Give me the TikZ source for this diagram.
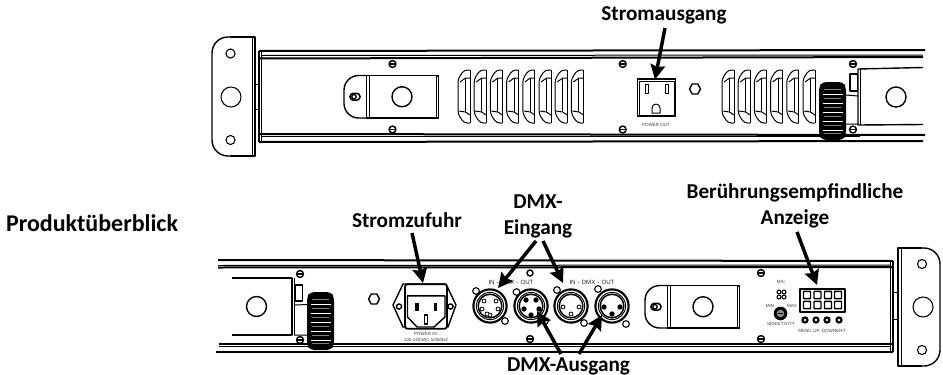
\documentclass[tikz,border=0pt]{standalone}
\usepackage{fontspec}
\setmainfont{Carlito}
\newfontfamily\tinyfont{Liberation Sans}
\usetikzlibrary{arrows.meta}
\tikzset{
  thin line/.style={line width=0.75pt,black},
  mid line/.style={line width=1.05pt,black},
  thick line/.style={line width=1.5pt,black},
  label text/.style={font=\fontsize{15.9pt}{19.5pt}\selectfont\bfseries,align=center,inner sep=0pt,text=black},
  tiny text/.style={font=\tinyfont\fontsize{3.4pt}{4pt}\selectfont,inner sep=0pt,text=black!75},
  small text/.style={font=\tinyfont\fontsize{4.6pt}{5pt}\selectfont,inner sep=0pt,text=black!85},
  pointer/.style={line width=2.6pt,black,-{Stealth[length=11pt,width=11pt,inset=1.5pt]}},
  hole/.style={circle,draw=black,line width=0.8pt,inner sep=0pt,fill=white},
  target/.style={inner sep=0pt,minimum size=0pt},
  screwhead/.pic={
    \fill[black] (0,0) circle (4.2);
    \fill[white] (0,0) circle (2.5);
    \fill[black] (-2.6,-0.6) rectangle (2.6,0.6);
  },
  vent/.pic={
    \draw[thin line,fill=white,rounded corners=2.5pt] (12,0) -- (6,0) -- (0,9) -- (0,44) -- (6,53) -- (12,53);
    \draw[thin line] (12,-0.2) -- (12,53.2);
    \draw[thin line] (12,8) -- (7.5,8) -- (2,12);
    \draw[thin line] (12,45) -- (7.5,42) -- (1,41);
    \draw[thin line] (7.5,8) -- (7.5,42);
  },
  knob/.pic={
    \fill[black,rounded corners=3pt] (3,0) -- (24,0) -- (27,5) -- (27,53) -- (24,58) -- (3,58) -- (0,53) -- (0,5) -- cycle;
    \foreach \yy in {7.5,16.5,25.5,34.5,43.5,51.5}
      \draw[line width=1.3pt,black!50] (5,\yy) -- (22,\yy);
    \foreach \yy in {12,21,30,39,48}
      \draw[line width=0.7pt,white] (3.5,\yy) -- (23.5,\yy);
  },
  hexnut/.pic={
    \draw[mid line,fill=white] (-5.5,0) -- (-2.8,-5) -- (2.8,-5) -- (5.5,0) -- (2.8,5) -- (-2.8,5) -- cycle;
  },
  slotmark/.pic={
    \draw[line width=1.2pt,black,fill=white,rounded corners=2.5pt] (-5,-3.4) rectangle (5,3.4);
    \draw[line width=1pt,black] (-1,0) circle (2.2);
  },
  latchplate/.pic={
    \draw[mid line,fill=white,rounded corners=11pt] (25,0) -- (0,0) -- (0,42.5) -- (25,42.5);
    \draw[mid line] (22,0) -- (95,0) (22,42.5) -- (95,42.5);
    \draw[thin line] (22,0) -- (22,42.5);
    \draw[thin line] (25,0) -- (25,42.5);
    \fill[black] (91.5,-1) rectangle (95,43.5);
    \fill[white] (92.6,1) rectangle (93.8,41.5);
    \draw[mid line] (58,21.25) circle (10);
    \path (11,21.25) pic {slotmark};
  },
  xlrshell/.pic={
    \draw[line width=1.6pt,black,fill=white] (0,0) circle (16.6);
    \draw[line width=0.7pt,black] (0,0) circle (13.6);
    \draw[line width=1.1pt,black] (0,0) circle (11.8);
  },
  smallpin/.style={circle,fill=black,inner sep=0pt,minimum size=4pt},
  openpin/.style={circle,draw=black,fill=white,line width=0.6pt,inner sep=0pt,minimum size=3pt},
  ear/.style={circle,draw=black,fill=white,line width=0.8pt,inner sep=0pt,minimum size=5pt},
}
\begin{document}
\begin{tikzpicture}[x=0.75pt,y=-0.75pt,line join=round]
\useasboundingbox (0,0) rectangle (943,375);
\fill[white] (0,0) rectangle (943,375);

% ---------- top unit ----------
\draw[mid line,fill=white,rounded corners=12pt] (236,37) -- (212,37) -- (212,156) -- (236,156);
\draw[mid line] (230,37) -- (255,37) -- (255,156) -- (230,156);
\draw[thin line] (252,37) -- (252,156);
\node[hole,minimum size=6.8pt] (tbh1) at (230.5,53.5) {};
\node[hole,minimum size=15pt] (tbh2) at (231,97) {};
\node[hole,minimum size=6.8pt] (tbh3) at (230.5,140) {};
\draw[thin line] (255,84) -- (259,84) (255,109) -- (259,109);
% rail
\draw[thick line] (259,51) -- (925,50);
\draw[thick line] (259,58.5) -- (923,57);
\draw[thin line] (262,55.5) -- (923,55);
\draw[thick line] (259,134) -- (925,135);
\draw[thin line] (262,136.5) -- (860,136.5);
\draw[thick line] (259,142) -- (923,141);
\draw[mid line] (259,51) -- (259,142);
\draw[thin line] (261.5,51) -- (261.5,142);
% furniture
\path (344,75.5) pic {latchplate};
\path (392.5,64) pic {screwhead} (392.5,129.5) pic {screwhead};
\path (622.7,64) pic {screwhead} (622.7,129.5) pic {screwhead};
\foreach \n in {0,...,7} \path (458+\n*16.2,70) pic {vent};
\foreach \n in {0,...,5} \path (722+\n*16.2,70) pic {vent};
\node[draw=black,line width=1.2pt,fill=white,minimum width=28.5pt,minimum height=27.5pt,inner sep=0pt] (outlet) at (656.5,97.5) {};
\draw[thin line] (639.5,81) rectangle (674.5,115);
\draw[thin line,fill=white] (645,84) rectangle (648,93);
\draw[thin line,fill=white] (665,84) rectangle (668,93);
\draw[thin line,fill=white] (652,113) -- (652,108) arc (180:360:4) -- (660,113) -- cycle;
\node[tiny text] (tpout) at (656,125) {POWER OUT};
\path (695,89) pic {hexnut};
% right latch
\draw[mid line] (923,67.5) -- (858,69) -- (858,125) -- (923,124.5);
\draw[thin line] (860,69) -- (860,125);
\draw[mid line] (896,97) circle (10);
\draw[mid line,fill=white] (850,74) rectangle (857.5,91);
\draw[thin line] (846,95) -- (858,96) (846,124) -- (858,124);
\path (853,64) pic {screwhead} (853,129.5) pic {screwhead};
\path (819,82) pic {knob};

% ---------- bottom unit ----------
\draw[thick line] (218,260) -- (893,261);
\draw[thick line] (218,267.5) -- (893,267);
\draw[thin line] (218,265.5) -- (890,265);
\draw[thick line] (219,344) -- (893,344);
\draw[thin line] (219,346.5) -- (890,346.5);
\draw[thick line] (216,351.5) -- (893,351.5);
\draw[mid line] (893,261) -- (893,351.5);
\draw[thin line] (890.5,261) -- (890.5,351.5);
\draw[thin line] (893,292) -- (898,292) (893,319) -- (898,319);
\draw[mid line,fill=white,rounded corners=12pt] (918,248) -- (940,248) -- (940,366) -- (918,366);
\draw[mid line] (922,248) -- (898,248) -- (898,366) -- (922,366);
\draw[thin line] (901,248) -- (901,366);
\node[hole,minimum size=6.8pt] (bbh1) at (922,264) {};
\node[hole,minimum size=15pt] (bbh2) at (923,307) {};
\node[hole,minimum size=6.8pt] (bbh3) at (922,350) {};
% left latch
\draw[mid line] (232,278) -- (292,278) -- (292,335) -- (232,335);
\draw[thin line] (294,278) -- (294,335);
\draw[mid line] (256.5,306.5) circle (10);
\draw[mid line,fill=white] (295,285) rectangle (302.5,301);
\draw[thin line] (294,305) -- (308,304.5) (294,335) -- (308,335);
\path (300,274) pic {screwhead} (300,340) pic {screwhead};
\path (307,292) pic {knob};
\path (374,299) pic {hexnut};
% IEC inlet
\draw[mid line,fill=white] (403,284) -- (393,305) -- (403,327) -- (448,327) -- (456,305) -- (446,284) -- cycle;
\node[draw=black,line width=1.3pt,rounded corners=2pt,fill=white,minimum width=31.5pt,minimum height=33.5pt,inner sep=0pt] (iec) at (426,306.5) {};
\draw[line width=1.2pt,black] (407,296) -- (445,296);
\draw[line width=1.1pt,black,fill=white] (407.5,296) -- (445,296) -- (445,317) -- (434,327) -- (417,327) -- (407.5,317) -- cycle;
\fill[black] (415,303) rectangle (418.5,311);
\fill[black] (433.5,303) rectangle (437,311);
\draw[line width=0.9pt,black,fill=white] (424.5,315) rectangle (427.5,324);
\draw[mid line,fill=white] (399,306.5) circle (2.6);
\draw[mid line,fill=white] (450.5,306.5) circle (2.6);
\node[tiny text] (pin1) at (426,334) {POWER IN:};
\node[tiny text] (pin2) at (426,340) {100-240VAC 50/60HZ};
% XLR row
\node[target] (xlrA) at (490,306) {};
\node[target] (xlrB) at (531,306) {};
\node[target] (xlrC) at (571,306) {};
\node[target] (xlrD) at (612,306) {};
\path (xlrA) pic {xlrshell} (xlrB) pic {xlrshell} (xlrC) pic {xlrshell} (xlrD) pic {xlrshell};
\node[ear] at (476,291) {};
\node[ear] at (505,321) {};
\node[ear] at (516.5,292) {};
\node[ear] at (545,321) {};
\node[ear] at (557,290) {};
\node[ear] at (584,323) {};
\node[ear] at (598,289) {};
\node[ear] at (626,324) {};
\foreach \a/\b in {-6/-5,6/-5,-8/3,8/3,0/9,-3/8} \node[openpin] at (490+\a,306+\b) {};
\foreach \a/\b in {-5/-6,5/-6,-7/3,8/3,0/9} \node[smallpin] at (531+\a,306+\b) {};
\foreach \a/\b in {-8/1,8/1,0/8} \node[openpin] at (571+\a,306+\b) {};
\foreach \a/\b in {-8/1,8/1,0/8} \node[smallpin] at (612+\a,306+\b) {};
\node[hole,minimum size=4.5pt,line width=1.1pt] (xtop) at (530,273) {};
\path (530,339) pic {screwhead};
\node[small text] (dmxa) at (511,282) {IN\,\,-\,\,DMX\,\,-\,\,OUT};
\node[small text] (dmxb) at (592,282) {IN\,\,-\,\,DMX\,\,-\,\,OUT};
% second latch
\path (645,285.5) pic {latchplate};
\path (761,273) pic {screwhead} (761,339) pic {screwhead};
% control panel
\node[tiny text] (mic) at (781,282) {MIC};
\foreach \a/\b in {779/292,784/292,779/297,784/297} \draw[line width=0.8pt,black] (\a,\b) circle (2);
\node[tiny text] (minl) at (770,306) {MIN};
\node[tiny text] (maxl) at (792,306) {MAX};
\fill[black] (780.5,313.5) circle (6.8);
\fill[black!45] (780.5,313.5) circle (3.8);
\draw[black,line width=0.6pt] (778,313.5) -- (783,313.5);
\node[tiny text] (sens) at (781,324) {SENSITIVITY};
\node[draw=black,line width=1.1pt,fill=white,minimum width=33.75pt,minimum height=17pt,inner sep=0pt] (display) at (822.5,300.5) {};
\foreach \a in {807,817.5,828,838} \foreach \b in {295,305}
  \draw[line width=1.1pt,black,rounded corners=0.5pt] (\a-3.5,\b-3.7) rectangle (\a+3.5,\b+3.7);
\foreach \a in {805,816,827,839} {
  \fill[black] (\a,320) circle (3.7);
  \fill[white] (\a,320) circle (1.3);
}
\node[tiny text] at (805,330.5) {MENU};
\node[tiny text] at (816.5,330.5) {UP};
\node[tiny text] at (829,330.5) {DOWN};
\node[tiny text] at (841,330.5) {ENT};

% ---------- labels ----------
\node[label text] (lStrom) at (664,15) {Stromausgang};
\node[label text,font=\fontsize{18pt}{22pt}\selectfont\bfseries] (lProd) at (92,223) {Produktüberblick};
\node[label text] (lZu) at (407,220) {Stromzufuhr};
\node[label text] (lEin) at (538,216.5) {DMX-\\Eingang};
\node[label text] (lBer) at (795,205.5) {Berührungsempfindliche\\Anzeige};
\node[label text] (lAus) at (568.5,366.5) {DMX-Ausgang};

% ---------- pointers ----------
\draw[pointer] ([shift={(1,13)}]lStrom.center) -- ([shift={(-1.5,-18)}]outlet.center);
\draw[pointer] ([shift={(5,13)}]lZu.center) -- ([shift={(-3,-23.5)}]iec.center);
\draw[pointer] ([shift={(-2,24.5)}]lEin.center) -- ([shift={(8,-18)}]xlrA.center);
\draw[pointer] ([shift={(5,24.5)}]lEin.center) -- ([shift={(-8,-23)}]xlrC.center);
\draw[pointer] ([shift={(-7.5,-12.5)}]lAus.center) -- ([shift={(6,5)}]xlrB.center);
\draw[pointer] ([shift={(10.5,-12.5)}]lAus.center) -- ([shift={(-10,9)}]xlrD.center);
\draw[pointer] ([shift={(2,26.5)}]lBer.center) -- ([shift={(-5.5,-15.5)}]display.center);
\end{tikzpicture}
\end{document}
